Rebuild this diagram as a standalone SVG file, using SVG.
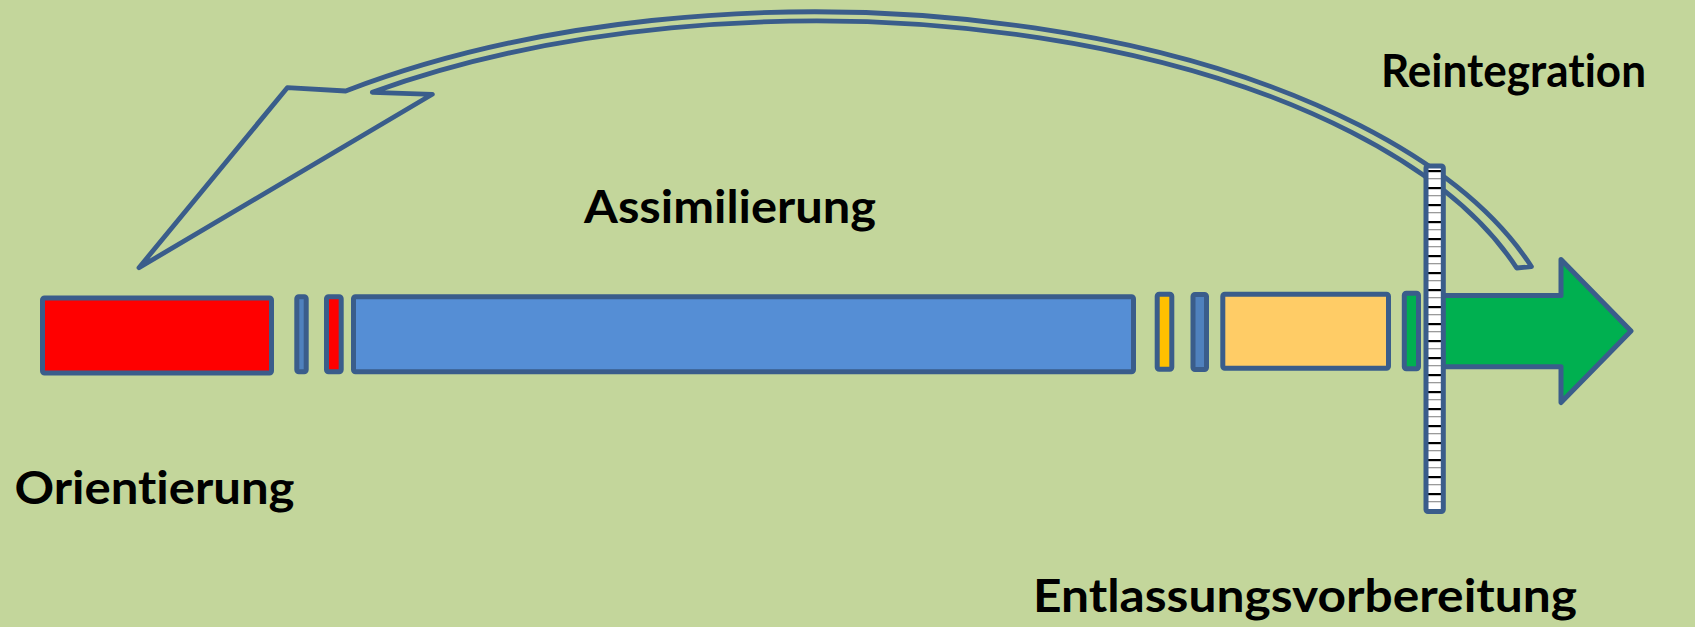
<svg xmlns="http://www.w3.org/2000/svg" width="1695" height="627" viewBox="0 0 1695 627">
<style>
.box{stroke:#3a5d8b;stroke-width:5;stroke-linejoin:round}
.lbl{font-family:Lato,"Open Sans","Liberation Sans",sans-serif;font-weight:700;font-size:45px;fill:#000;font-variant-ligatures:none;font-feature-settings:"liga" 0,"clig" 0}
.conn{fill:none;stroke:#3a5d8b;stroke-width:4.8;stroke-linejoin:round}
</style>
<defs>
<pattern id="ladder" patternUnits="userSpaceOnUse" x="0" y="0" width="20" height="17">
<rect x="0" y="0" width="20" height="17" fill="#ffffff"/>
<rect x="0" y="0" width="20" height="2.2" fill="#000000"/>
<rect x="0" y="8" width="20" height="1.3" fill="#9a9a9a"/>
</pattern>
</defs>
<rect x="0" y="0" width="1695" height="627" fill="#c3d69b"/>

<g id="connectors">
<path class="conn" d="M 345.7 91 L 287.3 87.7 L 139 267.7 L 432.3 94.3 L 372.3 92.3 A 734.5 351.7 0 0 1 1516.7 268 L 1531.5 266.7 A 752 363.5 0 0 0 345.7 91 Z"/>
</g>

<g id="orientierung-block">
<rect class="box" x="42.5" y="298" width="229" height="75" rx="2" fill="#ff0000"/>
</g>
<g id="sep1">
<rect class="box" x="296.8" y="296.8" width="9.4" height="75" rx="2" fill="#4f81bd"/>
</g>
<g id="sep2">
<rect class="box" x="326.5" y="296.8" width="14.7" height="75" rx="2" fill="#ff0000"/>
</g>
<g id="assimilierung-block">
<rect class="box" x="353.5" y="296.7" width="780" height="75" rx="2" fill="#558ed5"/>
</g>
<g id="sep3">
<rect class="box" x="1157.2" y="294.2" width="14.6" height="75" rx="2" fill="#ffc000"/>
</g>
<g id="sep4">
<rect class="box" x="1193" y="294.5" width="13.5" height="75" rx="2" fill="#4f81bd"/>
</g>
<g id="entlassung-block">
<rect class="box" x="1222.8" y="294.3" width="165.7" height="74" rx="2" fill="#ffcc66"/>
</g>
<g id="sep5">
<rect class="box" x="1404.3" y="293.3" width="14.2" height="75.5" rx="2" fill="#00b050"/>
</g>
<g id="reintegration-arrow">
<path class="box" d="M 1436 295.5 L 1561 295.5 L 1561 259.5 L 1631 331 L 1561 402.5 L 1561 366.7 L 1436 366.7 Z" fill="#00b050" stroke-linejoin="miter"/>
</g>
<g id="barrier">
<rect class="box" x="1426" y="166" width="17.3" height="345.5" rx="2" fill="url(#ladder)"/>
</g>

<g id="labels">
<text class="lbl" x="1381" y="86.7" textLength="265" lengthAdjust="spacingAndGlyphs">Reintegration</text>
<text class="lbl" x="584" y="222.5" textLength="292" lengthAdjust="spacingAndGlyphs">Assimilierung</text>
<text class="lbl" x="14.5" y="504" textLength="280" lengthAdjust="spacingAndGlyphs">Orientierung</text>
<text class="lbl" x="1033" y="612" textLength="544" lengthAdjust="spacingAndGlyphs">Entlassungsvorbereitung</text>
</g>
</svg>
